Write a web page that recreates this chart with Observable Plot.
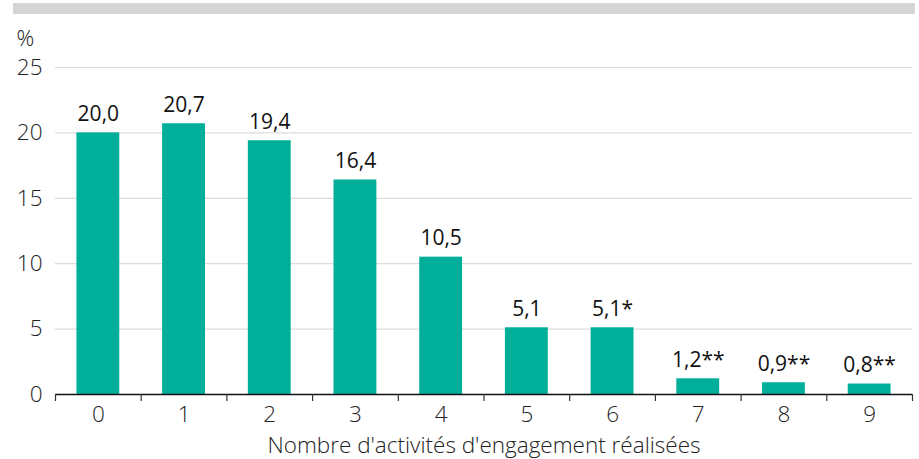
<!DOCTYPE html>
<html>
<head>
<meta charset="utf-8">
<script src="https://cdn.jsdelivr.net/npm/d3@7"></script>
<script src="https://cdn.jsdelivr.net/npm/@observablehq/plot@0.6"></script>
<style>
  html, body { margin: 0; padding: 0; background: #fff; }
  #wrap { position: relative; width: 919px; height: 459px; }
  #topbar { position: absolute; left: 13px; top: 3px; width: 902px; height: 11px; background: #d5d5d5; }
  #chart { position: absolute; left: 0; top: 0; }
</style>
</head>
<body>
<div id="wrap"><div id="topbar"></div><div id="chart"></div></div>
<script>
const categories = ["0", "1", "2", "3", "4", "5", "6", "7", "8", "9"];
const values = [20.0, 20.7, 19.4, 16.4, 10.5, 5.1, 5.1, 1.2, 0.9, 0.8];
const notes = ["", "", "", "", "", "", "*", "**", "**", "**"];
const yTicks = [0, 5, 10, 15, 20, 25];
const xLabel = "Nombre d'activités d'engagement réalisées";
const yLabel = "%";

const data = categories.map((c, i) => ({
  cat: c,
  value: values[i],
  label: values[i].toFixed(1).replace(".", ",") + notes[i]
}));

const W = 919, H = 459;
const mL = 55, mR = 7, mT = 67, mB = 65;
const step = (W - mL - mR) / categories.length;
const font = "'Open Sans', 'Noto Sans', sans-serif";

const chart = Plot.plot({
  width: W,
  height: H,
  marginLeft: mL,
  marginRight: mR,
  marginTop: mT,
  marginBottom: mB,
  style: { fontFamily: font, fontSize: "22.5px", background: "transparent", overflow: "visible" },
  x: { domain: categories, paddingInner: 0.5, paddingOuter: 0.25, round: false },
  y: { domain: [0, 25] },
  marks: [
    Plot.gridY(yTicks, { stroke: "#dcdcdc", strokeOpacity: 1, strokeWidth: 1.2 }),
    Plot.axisY(yTicks, { tickSize: 0, tickPadding: 13, fontSize: 22.5, fontWeight: 300, fill: "#222", label: null }),
    Plot.barY(data, { x: "cat", y: "value", fill: "#00ae99" }),
    Plot.ruleY([0], { stroke: "#111", strokeWidth: 1.5 }),
    Plot.axisX({ tickSize: 7, text: null, dx: -step / 2, stroke: "#333", strokeWidth: 1.2, label: null }),
    Plot.axisX({ ticks: [categories[categories.length - 1]], tickSize: 7, text: null, dx: step / 2, stroke: "#333", strokeWidth: 1.2, label: null }),
    Plot.axisX({ tickSize: 0, tickPadding: 12, fontSize: 22.5, fontWeight: 300, fill: "#222",
      label: xLabel, labelAnchor: "center", labelArrow: "none", labelOffset: 58 }),
    Plot.text(data, { x: "cat", y: "value", text: "label", dy: -12, lineAnchor: "bottom", fontSize: 21, fill: "#111" }),
    Plot.text([yLabel], { frameAnchor: "top-left", text: d => d, dx: -39, dy: -37, textAnchor: "start", lineAnchor: "top", fontSize: 22, fontWeight: 300, fill: "#222" })
  ]
});
document.getElementById("chart").appendChild(chart);
</script>
</body>
</html>
